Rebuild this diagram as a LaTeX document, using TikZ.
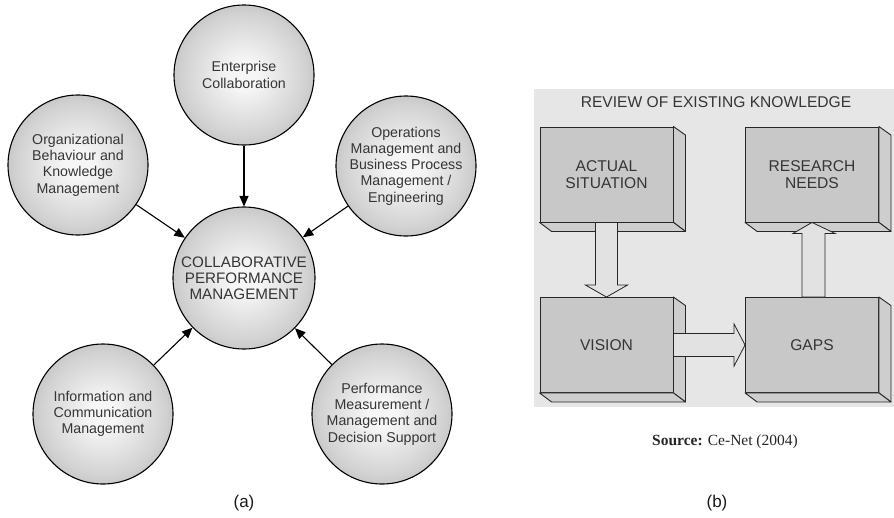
\documentclass[tikz,border=0pt]{standalone}
\usepackage{fontspec}
\setmainfont{Liberation Sans}
\newfontfamily\serifx{Liberation Serif}
\usetikzlibrary{calc,arrows.meta}
\definecolor{txt}{HTML}{353535}
\definecolor{cedge}{HTML}{ACACAC}
\definecolor{cmid}{HTML}{D2D2D2}
\definecolor{ccenter}{HTML}{F6F6F6}
\definecolor{panelbg}{HTML}{E6E6E6}
\definecolor{boxfront}{HTML}{C8C8C8}
\definecolor{boxside}{HTML}{CECECE}
\definecolor{arrfill}{HTML}{E2E2E2}
\pgfdeclareradialshading{bubshade}{\pgfpoint{0bp}{0bp}}{%
  color(0bp)=(ccenter); color(5bp)=(ccenter); color(22bp)=(cmid);
  color(35bp)=(cedge); color(50bp)=(cedge)}
\tikzset{
  bubble/.style={circle, draw=black, line width=1.1pt, shading=bubshade,
    minimum size=140pt, inner sep=0pt,
    align=center, text=txt, font=\fontsize{14.2}{16.3}\selectfont},
  hub/.style={bubble, minimum size=142pt, font=\fontsize{15.2}{16.2}\selectfont},
  conn/.style={line width=1.1pt, -{Triangle[length=10.5pt,width=9pt]}},
  frontbox/.style={rectangle, draw=black!85, line width=0.9pt, fill=boxfront,
    minimum width=133pt, minimum height=95pt, inner sep=0pt, align=center,
    text=txt, font=\fontsize{15.6}{17}\selectfont},
  sideface/.style={draw=black!85, line width=0.9pt, fill=boxside, line join=round},
  blockarr/.style={draw=black!85, line width=0.8pt, fill=arrfill, line join=miter},
  caplabel/.style={text=black!90, font=\fontsize{17}{19}\selectfont}
}
\newcommand\boxdepth[1]{%
  \path[sideface] (#1.north east) -- ++(12,8.5) -- ($(#1.south east)+(12,9)$) -- (#1.south east) -- cycle;
  \path[sideface] (#1.south west) -- ++(12,9) -- ($(#1.south east)+(12,9)$) -- (#1.south east) -- cycle;
}
\begin{document}
\begin{tikzpicture}[x=1pt,y=-1pt]
\useasboundingbox (0,0) rectangle (894,517);
% ---------- (a) ----------
\node[hub] (c) at (244,278) {COLLABORATIVE\\PERFORMANCE\\MANAGEMENT};
\node[bubble] (top) at (244,75) {Enterprise\\Collaboration};
\node[bubble] (ul) at (78,165) {Organizational\\Behaviour and\\Knowledge\\Management};
\node[bubble] (ur) at (406,166) {Operations\\Management and\\Business Process\\Management /\\Engineering};
\node[bubble] (ll) at (103,414) {Information and\\Communication\\Management};
\node[bubble] (lr) at (382,414) {Performance\\Measurement /\\Management and\\Decision Support};
\draw[conn] (top) -- (c);
\draw[conn] (ul) -- (c);
\draw[conn] (ur) -- (c);
\draw[conn] (ll) -- (c);
\draw[conn] (lr) -- (c);
\node[caplabel] (la) at (244,503) {(a)};
% ---------- (b) ----------
\fill[panelbg] (534,89) rectangle (894,407);
\node[text=txt, font=\fontsize{15.6}{17}\selectfont] (title) at (716,102) {REVIEW OF EXISTING KNOWLEDGE};
\node[frontbox] (actual) at (606.5,174.5) {ACTUAL\\SITUATION};
\node[frontbox] (research) at (812,174.5) {RESEARCH\\NEEDS};
\node[frontbox] (vision) at (606.5,345) {VISION};
\node[frontbox] (gaps) at (812,345) {GAPS};
\boxdepth{actual}
\boxdepth{research}
\boxdepth{vision}
\boxdepth{gaps}
% block arrows
\path[blockarr] ($(actual.south)+(-11,0)$) -- ($(vision.north)+(-11,-12)$) -- ($(vision.north)+(-21,-12)$)
  -- (vision.north) -- ($(vision.north)+(21,-12)$) -- ($(vision.north)+(11,-12)$) -- ($(actual.south)+(11,0)$) -- cycle;
\path[blockarr] ($(vision.east)+(0,-11.5)$) -- ($(gaps.west)+(-11,-11.5)$) -- ($(gaps.west)+(-11,-21)$)
  -- (gaps.west) -- ($(gaps.west)+(-11,21)$) -- ($(gaps.west)+(-11,11.5)$) -- ($(vision.east)+(0,11.5)$) -- cycle;
\path[blockarr] ($(gaps.north)+(-10,0)$) -- ($(research.south)+(-10,11)$) -- ($(research.south)+(-19,11)$)
  -- (research.south) -- ($(research.south)+(23,11)$) -- ($(research.south)+(13,11)$) -- ($(gaps.north)+(13,0)$) -- cycle;
\node[text=black!85, font=\serifx\fontsize{15.5}{17}\selectfont] (src) at (725,442) {\textbf{Source:} Ce-Net (2004)};
\node[caplabel] (lb) at (717,503) {(b)};
\end{tikzpicture}
\end{document}
